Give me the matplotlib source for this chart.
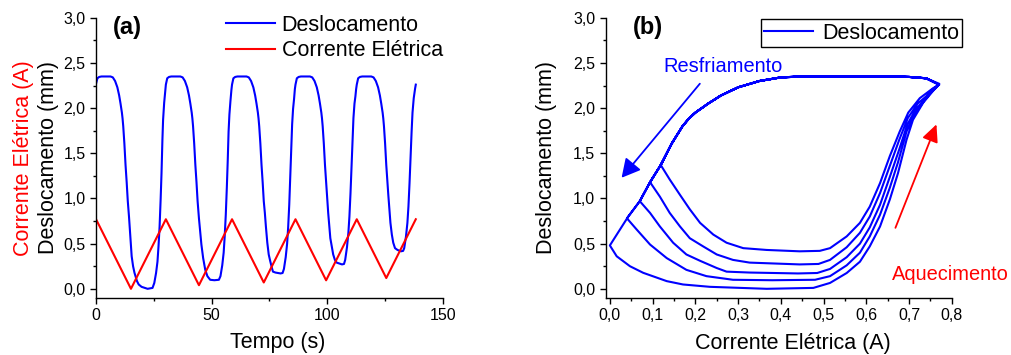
import matplotlib.pyplot as plt
from matplotlib.ticker import MultipleLocator, FuncFormatter

plt.rcParams['font.family'] = ['Liberation Sans', 'DejaVu Sans']

# Tempo (s), corrente (A) e deslocamento (mm)
tempo = [
    0.0, 0.59, 1.37, 2.35, 4.31, 6.27, 7.25, 8.24, 9.22, 10.0, 10.59, 11.18, 11.47, 11.76, 12.25, 12.76, 13.25, 13.73, 14.25, 15.1,
    15.41, 16.02, 16.63, 17.71, 18.45, 19.69, 21.06, 22.3, 24.43, 25.2, 25.96, 26.57, 27.02, 27.49, 27.94, 28.32, 28.71, 29.0, 29.47, 29.92, 30.2,
    30.79, 31.57, 32.55, 34.51, 36.47, 37.45, 38.44, 39.42, 40.2, 40.79, 41.38, 41.67, 41.96, 42.45, 42.96, 43.45, 43.93, 44.51,
    44.94, 45.57, 46.33, 47.24, 48.16, 49.37, 51.18, 53.14, 53.82, 54.59, 55.2, 55.65, 56.12, 56.57, 56.94, 57.33, 57.69, 58.14, 58.55, 58.82,
    59.41, 60.19, 61.17, 63.13, 65.09, 66.07, 67.06, 68.04, 68.82, 69.41, 70.0, 70.29, 70.58, 71.07, 71.58, 72.07, 72.55,
    73.02, 73.47, 74.08, 74.69, 75.31, 76.08, 76.53, 77.59, 79.8, 80.69, 81.27, 82.04, 82.65, 83.1, 83.57, 84.02, 84.43, 84.82, 85.22, 85.65, 86.0, 86.27,
    86.86, 87.64, 88.62, 90.58, 92.54, 93.52, 94.51, 95.49, 96.27, 96.86, 97.45, 97.74, 98.03, 98.52, 99.03, 99.52,
    99.97, 100.42, 100.89, 101.34, 101.95, 102.58, 103.32, 104.09, 106.38, 107.25, 107.77, 108.54, 109.15, 109.6, 110.07, 110.52, 110.95, 111.34, 111.79, 112.19, 112.5, 112.78,
    113.37, 114.15, 115.13, 117.09, 119.05, 120.03, 121.02, 122.0, 122.78, 123.37, 123.96, 124.25, 124.54, 125.03, 125.54,
    125.95, 126.42, 126.87, 127.34, 127.95, 128.56, 129.32, 130.4, 131.91, 132.83, 133.3, 134.07, 134.68, 135.13, 135.6, 136.05, 136.5, 136.89, 137.42, 138.03, 138.31,
]
corrente = [
    0.77, 0.74, 0.70, 0.65, 0.55, 0.45, 0.40, 0.35, 0.30, 0.26, 0.23, 0.20, 0.185, 0.17, 0.145, 0.119, 0.094, 0.070, 0.043, 0.0,
    0.016, 0.047, 0.078, 0.133, 0.171, 0.234, 0.304, 0.367, 0.476, 0.515, 0.554, 0.585, 0.608, 0.632, 0.655, 0.674, 0.694, 0.709, 0.733, 0.756, 0.77,
    0.74, 0.70, 0.65, 0.55, 0.45, 0.40, 0.35, 0.30, 0.26, 0.23, 0.20, 0.185, 0.17, 0.145, 0.119, 0.094, 0.070, 0.040,
    0.062, 0.094, 0.133, 0.179, 0.226, 0.288, 0.380, 0.480, 0.515, 0.554, 0.585, 0.608, 0.632, 0.655, 0.674, 0.694, 0.712, 0.735, 0.756, 0.77,
    0.74, 0.70, 0.65, 0.55, 0.45, 0.40, 0.35, 0.30, 0.26, 0.23, 0.20, 0.185, 0.17, 0.145, 0.119, 0.094, 0.070,
    0.094, 0.117, 0.148, 0.179, 0.211, 0.250, 0.273, 0.327, 0.440, 0.485, 0.515, 0.554, 0.585, 0.608, 0.632, 0.655, 0.676, 0.696, 0.716, 0.738, 0.756, 0.77,
    0.74, 0.70, 0.65, 0.55, 0.45, 0.40, 0.35, 0.30, 0.26, 0.23, 0.20, 0.185, 0.17, 0.145, 0.119, 0.094,
    0.117, 0.140, 0.164, 0.187, 0.218, 0.250, 0.288, 0.327, 0.444, 0.488, 0.515, 0.554, 0.585, 0.608, 0.632, 0.655, 0.677, 0.697, 0.720, 0.740, 0.756, 0.77,
    0.74, 0.70, 0.65, 0.55, 0.45, 0.40, 0.35, 0.30, 0.26, 0.23, 0.20, 0.185, 0.17, 0.145, 0.119,
    0.140, 0.164, 0.187, 0.211, 0.242, 0.273, 0.312, 0.367, 0.444, 0.491, 0.515, 0.554, 0.585, 0.608, 0.632, 0.655, 0.678, 0.698, 0.725, 0.756, 0.77,
]
deslocamento = [
    2.27, 2.33, 2.345, 2.35, 2.35, 2.35, 2.34, 2.30, 2.23, 2.14, 2.05, 1.95, 1.885, 1.80, 1.61, 1.37, 1.18, 0.97, 0.80, 0.48,
    0.36, 0.25, 0.177, 0.085, 0.048, 0.022, 0.01, 0.0, 0.01, 0.065, 0.175, 0.30, 0.47, 0.69, 0.99, 1.28, 1.65, 1.87, 2.06, 2.19, 2.26,
    2.33, 2.345, 2.35, 2.35, 2.35, 2.34, 2.30, 2.23, 2.14, 2.05, 1.95, 1.885, 1.80, 1.61, 1.37, 1.18, 0.97, 0.78,
    0.66, 0.49, 0.34, 0.21, 0.14, 0.10, 0.095, 0.10, 0.14, 0.26, 0.40, 0.58, 0.82, 1.12, 1.40, 1.74, 1.93, 2.08, 2.20, 2.26,
    2.33, 2.345, 2.35, 2.35, 2.35, 2.34, 2.30, 2.23, 2.14, 2.05, 1.95, 1.885, 1.80, 1.61, 1.37, 1.18, 0.97,
    0.84, 0.69, 0.51, 0.38, 0.31, 0.23, 0.19, 0.18, 0.17, 0.175, 0.22, 0.35, 0.50, 0.68, 0.93, 1.24, 1.53, 1.82, 1.99, 2.10, 2.21, 2.26,
    2.33, 2.345, 2.35, 2.35, 2.35, 2.34, 2.30, 2.23, 2.14, 2.05, 1.95, 1.885, 1.80, 1.61, 1.37, 1.18,
    1.02, 0.84, 0.69, 0.56, 0.47, 0.38, 0.32, 0.29, 0.27, 0.275, 0.32, 0.46, 0.62, 0.80, 1.06, 1.36, 1.65, 1.89, 2.05, 2.13, 2.21, 2.26,
    2.33, 2.345, 2.35, 2.35, 2.35, 2.34, 2.30, 2.23, 2.14, 2.05, 1.95, 1.885, 1.80, 1.61, 1.37,
    1.21, 1.04, 0.88, 0.73, 0.60, 0.51, 0.45, 0.43, 0.415, 0.42, 0.45, 0.58, 0.73, 0.91, 1.17, 1.47, 1.74, 1.95, 2.11, 2.22, 2.26,
]

AZUL = '#0000ff'
VERMELHO = '#ff0000'


def virgula(v, pos):
    return f"{v:.1f}".replace('.', ',')


def estilo(ax):
    ax.spines['top'].set_visible(False)
    ax.spines['right'].set_visible(False)
    for s in ('left', 'bottom'):
        ax.spines[s].set_linewidth(1.0)
    ax.tick_params(which='major', direction='out', length=4.5, width=1.0, labelsize=11.5, pad=3)
    ax.tick_params(which='minor', direction='out', length=2.5, width=1.0)
    ax.set_ylim(-0.1, 3.0)
    ax.yaxis.set_major_locator(MultipleLocator(0.5))
    ax.yaxis.set_minor_locator(MultipleLocator(0.25))
    ax.yaxis.set_major_formatter(FuncFormatter(virgula))


fig = plt.figure(figsize=(10.11, 3.55), dpi=100)
ax1 = fig.add_axes([0.095, 0.161, 0.343, 0.789])
ax2 = fig.add_axes([0.599, 0.161, 0.3425, 0.789])

# (a) deslocamento e corrente no tempo
estilo(ax1)
ax1.plot(tempo, deslocamento, color=AZUL, lw=1.5, label='Deslocamento')
ax1.plot(tempo, corrente, color=VERMELHO, lw=1.5, label='Corrente Elétrica')
ax1.set_xlim(0, 150)
ax1.xaxis.set_major_locator(MultipleLocator(50))
ax1.xaxis.set_minor_locator(MultipleLocator(25))
ax1.text(0.525, -0.179, 'Tempo (s)', transform=ax1.transAxes, ha='center', va='baseline', fontsize=15.5)
ax1.text(-0.138, 0.5, 'Deslocamento (mm)', transform=ax1.transAxes, rotation=90, ha='center', va='center', fontsize=15.5)
ax1.text(-0.21, 0.5, 'Corrente Elétrica (A)', transform=ax1.transAxes, rotation=90, ha='center', va='center',
         fontsize=15.5, color=VERMELHO)
ax1.text(7.2, 2.823, '(a)', fontsize=17, fontweight='bold', ha='left', va='baseline')
ax1.legend(loc='upper left', bbox_to_anchor=(0.2235, 0.958), bbox_transform=fig.transFigure, frameon=False,
           fontsize=15.5, handlelength=2.28, handletextpad=0.31, borderpad=0, borderaxespad=0, labelspacing=0.2)

# (b) deslocamento x corrente
estilo(ax2)
ax2.plot(corrente, deslocamento, color=AZUL, lw=1.5, label='Deslocamento')
ax2.set_xlim(-0.01, 0.8)
ax2.xaxis.set_major_locator(MultipleLocator(0.1))
ax2.xaxis.set_minor_locator(MultipleLocator(0.05))
ax2.xaxis.set_major_formatter(FuncFormatter(virgula))
ax2.text(0.54, -0.183, 'Corrente Elétrica (A)', transform=ax2.transAxes, ha='center', va='baseline', fontsize=15.5)
ax2.text(-0.172, 0.5, 'Deslocamento (mm)', transform=ax2.transAxes, rotation=90, ha='center', va='center', fontsize=15.5)
ax2.text(0.0545, 2.823, '(b)', fontsize=17, fontweight='bold', ha='left', va='baseline')
leg = ax2.legend(loc='upper left', bbox_to_anchor=(0.7524, 0.9456), bbox_transform=fig.transFigure,
                 fontsize=15.5, handlelength=2.3, handletextpad=0.4, borderpad=0.15, borderaxespad=0,
                 fancybox=False, framealpha=1)
leg.get_frame().set_edgecolor('black')
leg.get_frame().set_linewidth(1.0)

ax2.text(0.1247, 2.398, 'Resfriamento', color=AZUL, fontsize=14.4, ha='left', va='baseline')
ax2.annotate('', xy=(0.0274, 1.229), xytext=(0.2105, 2.27),
             arrowprops=dict(arrowstyle='-|>,head_length=0.75,head_width=0.4', color=AZUL, lw=1.3,
                             mutation_scale=15, shrinkA=0, shrinkB=0))
ax2.text(0.659, 0.103, 'Aquecimento', color=VERMELHO, fontsize=14.4, ha='left', va='baseline', clip_on=False)
ax2.annotate('', xy=(0.764, 1.82), xytext=(0.668, 0.675),
             arrowprops=dict(arrowstyle='-|>,head_length=0.7,head_width=0.33', color=VERMELHO, lw=1.3,
                             mutation_scale=15, shrinkA=0, shrinkB=0))

fig.savefig('out.png', dpi=100)
plt.close(fig)
